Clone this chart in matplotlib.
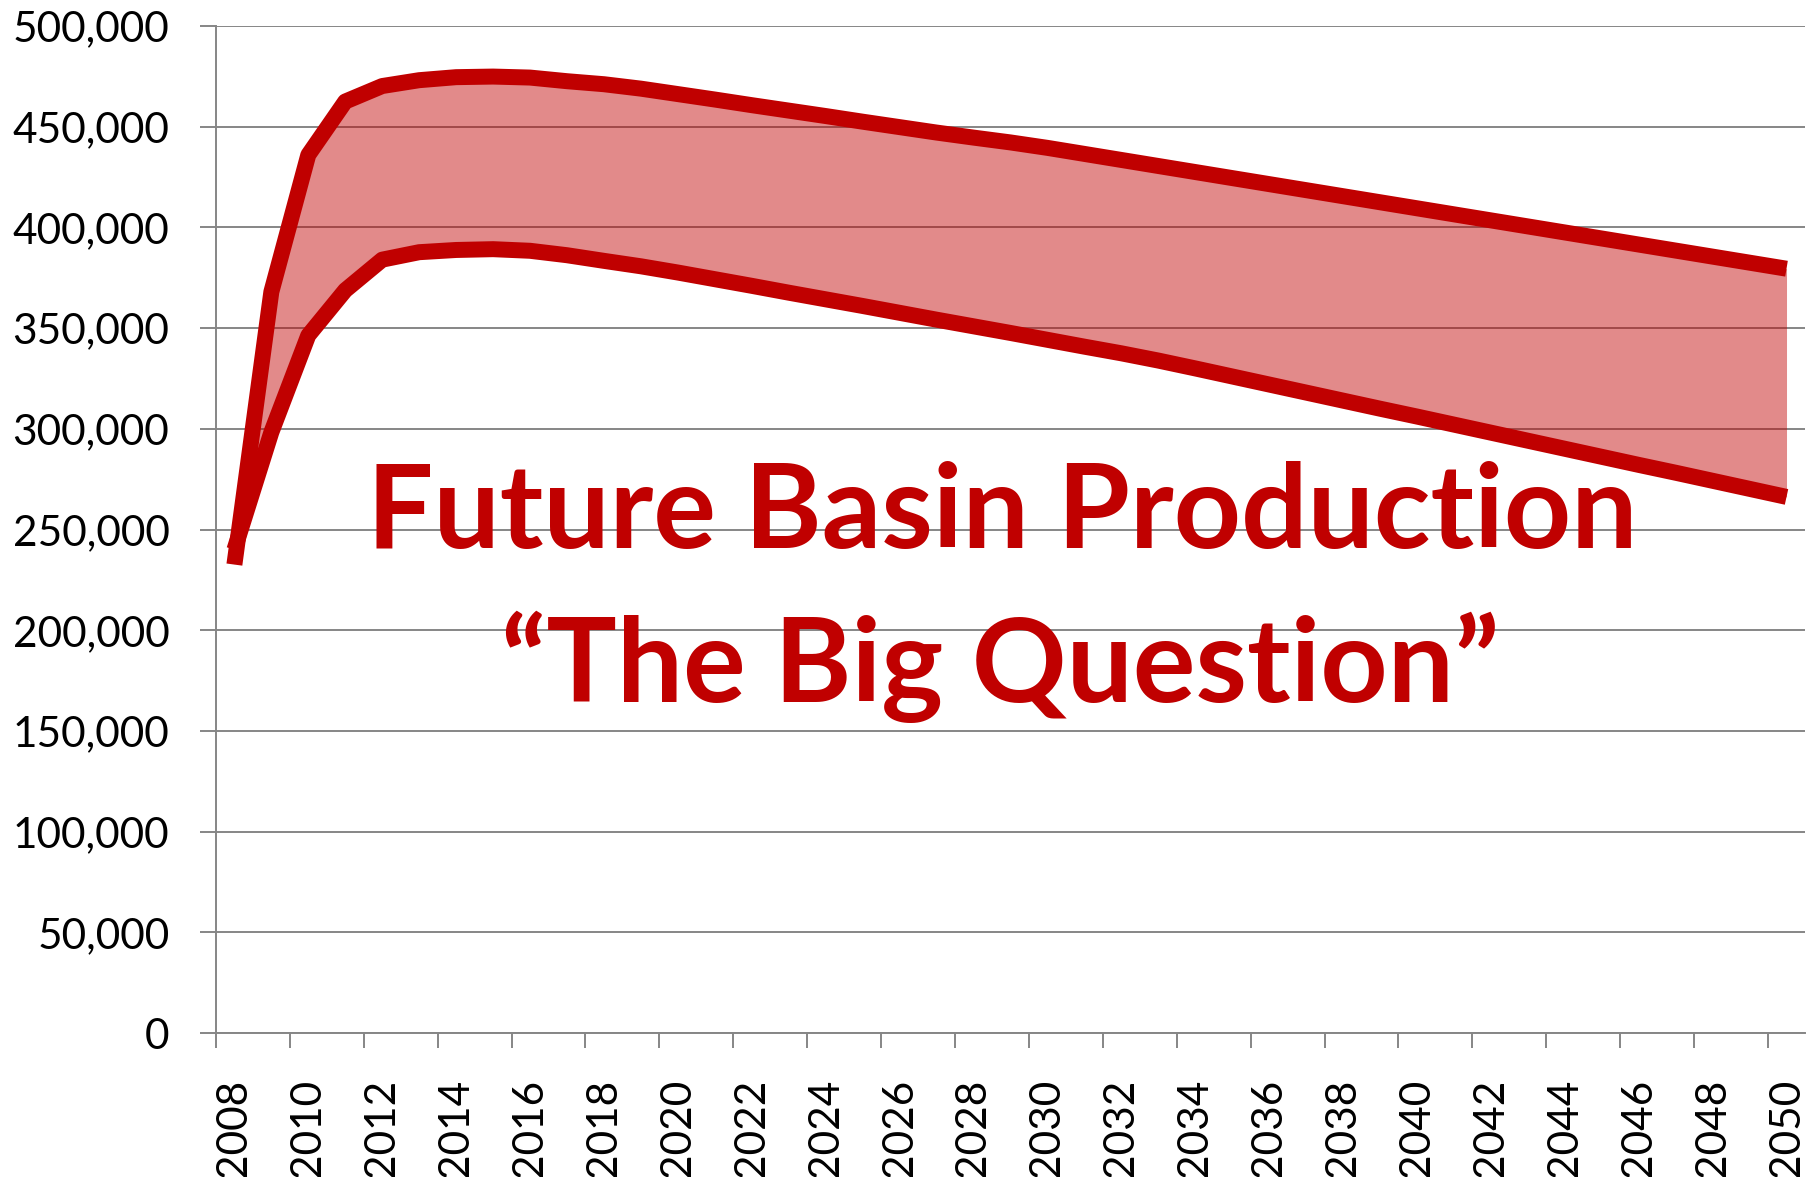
import numpy as np
import matplotlib.pyplot as plt
from matplotlib.ticker import FixedLocator, FuncFormatter

# データ
years = list(range(2008, 2051))

upper = [232600, 368000, 436000, 462500, 470200, 473100, 474600, 474900, 474400, 472600,
         471100, 468900, 466200, 463500, 460700, 458000, 455300, 452500, 449800, 447100,
         444600, 442200, 439500, 436500, 433500, 430500, 427500, 424500, 421500, 418500,
         415500, 412500, 409500, 406500, 403500, 400500, 397500, 394500, 391500, 388500,
         385500, 382500, 379500]

lower = [240000, 298300, 346400, 368800, 384000, 387700, 388800, 389200, 388400, 386200,
         383400, 380700, 377600, 374300, 371000, 367600, 364300, 361000, 357600, 354200,
         350900, 347600, 344200, 340800, 337500, 333900, 330000, 326000, 322000, 318000,
         314000, 310000, 306100, 302100, 298100, 294100, 290100, 286100, 282100, 278200,
         274200, 270200, 266200]

y_ticks = list(range(0, 500001, 50000))
x_labels = list(range(2008, 2051, 2))

title1 = "Future Basin Production"
title2 = "\u201cThe Big Question\u201d"

red = '#C00000'
grey = '#868686'

# グラフ
fig = plt.figure(figsize=(18.19, 11.77), dpi=100)
ax = fig.add_axes([0.1187, 0.1223, 0.9923 - 0.1187, 0.9779 - 0.1223])

ax.fill_between(years, upper, lower, color=red, alpha=0.46, linewidth=0, zorder=2)
ax.plot(years, upper, color=red, linewidth=11.5, solid_capstyle='butt',
        solid_joinstyle='round', zorder=3)
ax.plot(years, lower, color=red, linewidth=11.5, solid_capstyle='butt',
        solid_joinstyle='round', zorder=3)

# 軸
ax.set_xlim(2007.5, 2050.5)
ax.set_ylim(0, 500000)
ax.set_axisbelow(True)

ax.yaxis.set_major_locator(FixedLocator(y_ticks))
ax.yaxis.set_major_formatter(FuncFormatter(lambda v, p: f"{int(v):,}"))
ax.grid(axis='y', color=grey, linewidth=1.4)
ax.grid(axis='x', visible=False)

ax.xaxis.set_major_locator(FixedLocator([y - 0.5 for y in x_labels]))
ax.xaxis.set_major_formatter(FuncFormatter(lambda v, p: ""))
ax.xaxis.set_minor_locator(FixedLocator(x_labels))
ax.xaxis.set_minor_formatter(FuncFormatter(lambda v, p: f"{int(round(v))}"))

for s in ['top', 'right']:
    ax.spines[s].set_visible(False)
for s in ['left', 'bottom']:
    ax.spines[s].set_color(grey)
    ax.spines[s].set_linewidth(1.4)

ax.tick_params(axis='y', which='major', direction='out', length=11.5, width=1.4,
               color=grey, pad=22, labelsize=30.5)
ax.tick_params(axis='x', which='major', direction='out', length=11, width=1.4,
               color=grey)
ax.tick_params(axis='x', which='minor', length=0, pad=33, labelsize=30.5,
               labelrotation=90)
for lab in ax.get_yticklabels() + ax.get_xticklabels(minor=True):
    lab.set_family('Lato')

# タイトル
fig.text(0.551, 0.5341, title1, ha='center', va='baseline', color=red,
         fontsize=84.5, fontweight='bold', family='Lato')
fig.text(0.5497, 0.4038, title2, ha='center', va='baseline', color=red,
         fontsize=84.5, fontweight='bold', family='Lato')

fig.savefig('out.png', dpi=100)
